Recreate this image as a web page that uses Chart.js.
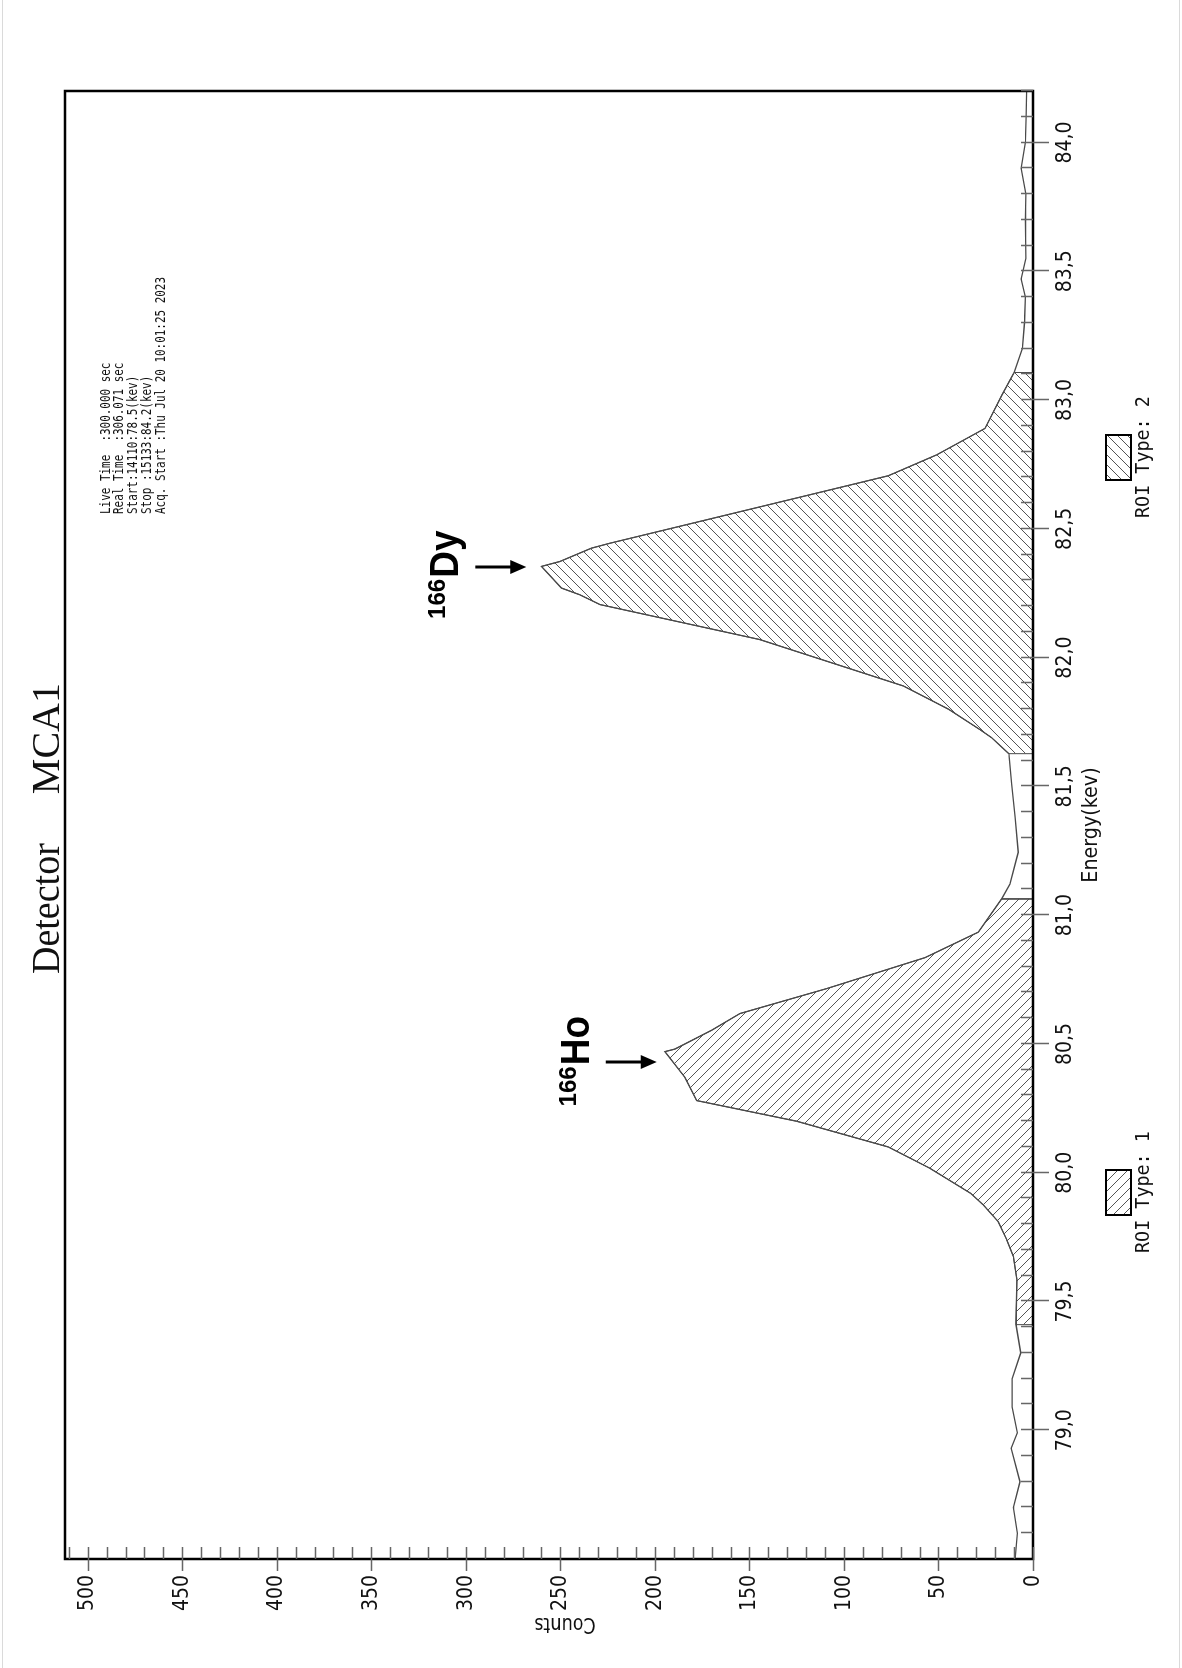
<!DOCTYPE html>
<html>
<head>
<meta charset="utf-8">
<title>Detector MCA1</title>
<script src="https://cdn.jsdelivr.net/npm/chart.js@4.4.0/dist/chart.umd.min.js"></script>
<style>
  html, body { margin: 0; padding: 0; background: #fff; }
  body { width: 1182px; height: 1668px; position: relative; overflow: hidden; }
  .edge { position: absolute; top: 0; width: 1px; height: 1668px; background: #dadada; }
  /* the spectrum is laid out landscape and turned a quarter turn */
  #sheet { position: absolute; left: 0; top: 0; width: 1668px; height: 1182px;
           transform-origin: 0 0; transform: translate(0, 1668px) rotate(-90deg); }
</style>
</head>
<body>
<div class="edge" style="left:2px"></div>
<div class="edge" style="left:1179px"></div>
<div id="sheet"><canvas id="spectrum" width="1668" height="1182"></canvas></div>
<script>
// spectrum: energy (keV) / counts
const energyKeV = [78.50, 78.60, 78.70, 78.80, 78.93, 78.99, 79.09, 79.20, 79.30, 79.41,
  79.585, 79.675, 79.74, 79.81, 79.875, 79.92, 80.017, 80.10, 80.20, 80.28,
  80.37, 80.47, 80.48, 80.553, 80.618, 80.715, 80.79, 80.835, 80.934, 81.063,
  81.12, 81.244, 81.38, 81.51, 81.627, 81.689, 81.72, 81.80, 81.89, 82.07,
  82.206, 82.244, 82.27, 82.354, 82.373, 82.425, 82.444, 82.706, 82.787, 82.858,
  82.89, 83.019, 83.107, 83.20, 83.30, 83.40, 83.47, 83.55, 83.70, 83.80,
  83.90, 84.00, 84.10, 84.20];
const counts = [9.5, 8.3, 10.4, 6.9, 11.6, 8.3, 11.0, 11.0, 6.5, 9.0,
  8.5, 10.4, 13.9, 18.4, 26.3, 33.0, 54.5, 76.6, 125.1, 177.9,
  184.1, 194.7, 189.4, 170.0, 155.0, 109.0, 76.6, 57.1, 28.9, 16.6,
  12.2, 7.8, 9.5, 11.3, 12.8, 21.9, 28.0, 44.8, 68.6, 144.5,
  229.1, 239.7, 249.4, 260.0, 250.3, 233.5, 223.8, 76.6, 51.0, 33.3,
  25.4, 16.5, 10.0, 5.6, 4.5, 4.0, 6.3, 3.8, 4.0, 3.8,
  6.3, 4.0, 3.6, 3.4];

// regions of interest (keV)
const roiOne = [79.41, 81.063];
const roiTwo = [81.627, 83.107];
const roiNames = ['ROI Type: 1', 'ROI Type: 2'];

// axes
const energyRange = [78.5, 84.2];
const countsRange = [0, 512];
const energyTicks = [79.0, 79.5, 80.0, 80.5, 81.0, 81.5, 82.0, 82.5, 83.0, 83.5, 84.0];
const countsTicks = [0, 50, 100, 150, 200, 250, 300, 350, 400, 450, 500];

// peak markers
const peakNames = ['Ho', 'Dy'];
const peakMass = '166';
const peakEnergy = [80.43, 82.35];
const arrowTipCounts = [199, 268];

const acqInfo = [
  'Live Time  :300.000 sec',
  'Real Time  :306.071 sec',
  'Start:14110:78.5(kev)',
  'Stop :15133:84.2(kev)',
  'Acq. Start :Thu Jul 20 10:01:25 2023'
];

const canvas = document.getElementById('spectrum');
const ctx = canvas.getContext('2d');

// diagonal hatch tiles, dir 1 = "\" , dir -1 = "/"
function hatch(dir) {
  const n = 10;
  const t = document.createElement('canvas');
  t.width = n; t.height = n;
  const g = t.getContext('2d');
  g.strokeStyle = '#555';
  g.lineWidth = 1;
  g.beginPath();
  if (dir > 0) {
    g.moveTo(-1, -1); g.lineTo(n + 1, n + 1);
    g.moveTo(-1, n - 1); g.lineTo(1, n + 1);
    g.moveTo(n - 1, -1); g.lineTo(n + 1, 1);
  } else {
    g.moveTo(-1, n + 1); g.lineTo(n + 1, -1);
    g.moveTo(-1, 1); g.lineTo(1, -1);
    g.moveTo(n - 1, n + 1); g.lineTo(n + 1, n - 1);
  }
  g.stroke();
  return ctx.createPattern(t, 'repeat');
}
const hatchOne = hatch(1);
const hatchTwo = hatch(-1);

const spectrumPts = energyKeV.map((e, i) => ({ x: e, y: counts[i] }));

function roiPts(r) {
  const pts = [{ x: r[0], y: 0 }];
  energyKeV.forEach((e, i) => {
    if (e >= r[0] - 1e-9 && e <= r[1] + 1e-9) pts.push({ x: e, y: counts[i] });
  });
  pts.push({ x: r[1], y: 0 });
  return pts;
}

function txt(c, s, x, y, o) {
  c.save();
  c.translate(x, y);
  if (o.rot) c.rotate(o.rot);
  c.scale(o.sx || 1, 1);
  c.font = o.font;
  c.fillStyle = o.color || '#111';
  c.textAlign = o.align || 'left';
  c.textBaseline = o.base || 'alphabetic';
  c.fillText(s, 0, 0);
  c.restore();
}

function txtWidth(c, s, font, sx) {
  c.save();
  c.font = font;
  const w = c.measureText(s).width * (sx || 1);
  c.restore();
  return w;
}

function arrowDown(c, x, yTail, yTip) {
  c.save();
  c.strokeStyle = '#000';
  c.fillStyle = '#000';
  c.lineWidth = 3;
  c.beginPath();
  c.moveTo(x, yTail);
  c.lineTo(x, yTip - 12);
  c.stroke();
  c.beginPath();
  c.moveTo(x - 7, yTip - 16);
  c.lineTo(x + 7, yTip - 16);
  c.lineTo(x, yTip);
  c.closePath();
  c.fill();
  c.restore();
}

const tickFont = '22px "DejaVu Sans", sans-serif';
const monoFont = '"DejaVu Sans Mono", monospace';

const decor = {
  id: 'decor',
  afterDraw(chart) {
    const c = chart.ctx;
    const a = chart.chartArea;
    const xs = chart.scales.x;
    const ys = chart.scales.y;

    // frame
    c.save();
    c.strokeStyle = '#000';
    c.lineWidth = 2.5;
    c.strokeRect(a.left, a.top, a.right - a.left, a.bottom - a.top);

    // energy ticks every 0.1 keV, long ones every 0.5
    c.strokeStyle = '#666';
    c.lineWidth = 1.5;
    c.beginPath();
    for (let k = 786; k <= 842; k++) {
      const px = Math.round(xs.getPixelForValue(k / 10)) + 0.5;
      const major = k % 5 === 0;
      c.moveTo(px, a.bottom - 12);
      c.lineTo(px, major ? a.bottom + 16 : a.bottom);
    }
    // counts ticks every 10, long ones every 50
    for (let v = 0; v <= 510; v += 10) {
      const py = Math.round(ys.getPixelForValue(v)) + 0.5;
      const major = v % 50 === 0;
      c.moveTo(a.left + 12, py);
      c.lineTo(major ? a.left - 12 : a.left, py);
    }
    c.stroke();
    c.restore();

    energyTicks.forEach(v => {
      txt(c, v.toFixed(1).replace('.', ','), xs.getPixelForValue(v), a.bottom + 38,
        { font: tickFont, sx: 0.86, align: 'center' });
    });
    countsTicks.forEach(v => {
      txt(c, String(v), a.left - 16, ys.getPixelForValue(v), { font: tickFont, sx: 0.86, align: 'right', base: 'middle' });
    });

    // axis titles
    txt(c, 'Energy(kev)', (a.left + a.right) / 2, a.bottom + 64,
      { font: '21px "DejaVu Sans", sans-serif', sx: 0.91, align: 'center' });
    txt(c, 'Counts', 50, 565, { font: '22px "DejaVu Sans", sans-serif', sx: 0.8, align: 'center', rot: -Math.PI / 2 });

    // title
    txt(c, 'Detector', 694, 58.5, { font: '40px "Liberation Serif", "Times New Roman", serif', sx: 0.95 });
    txt(c, 'MCA1', 985, 58.5, { font: '40px "Liberation Serif", "Times New Roman", serif', align: 'right' });

    // acquisition block
    acqInfo.forEach((line, i) => {
      txt(c, line, 1154, 109.5 + i * 13.9, { font: '13.5px ' + monoFont, sx: 0.81 });
    });

    // ROI keys
    const keys = [[roiOne, hatchOne, 415], [roiTwo, hatchTwo, 1150]];
    keys.forEach((k, i) => {
      const x0 = k[2];
      c.save();
      c.fillStyle = k[1];
      c.fillRect(x0 + 38, 1106, 45, 25);
      c.strokeStyle = '#000';
      c.lineWidth = 2;
      c.strokeRect(x0 + 38, 1106, 45, 25);
      c.restore();
      txt(c, roiNames[i], x0, 1149, { font: '20px ' + monoFont, sx: 0.92 });
    });

    // peak markers
    const massFont = 'bold 23px "Liberation Sans", Arial, sans-serif';
    const nameFont = 'bold 41px "Liberation Sans", Arial, sans-serif';
    const offs = [-44.5, -52];
    peakNames.forEach((name, i) => {
      const x = Math.round(xs.getPixelForValue(peakEnergy[i]));
      const tip = ys.getPixelForValue(arrowTipCounts[i]);
      arrowDown(c, x, tip - 51, tip);
      const mx = x + offs[i];
      txt(c, peakMass, mx, tip - 81, { font: massFont, sx: 1.05, color: '#000' });
      const w = txtWidth(c, peakMass, massFont, 1.05);
      txt(c, name, mx + w + 1, tip - 68, { font: nameFont, sx: 0.9, color: '#000' });
    });
  }
};

new Chart(canvas, {
  type: 'line',
  data: {
    datasets: [
      {
        data: spectrumPts,
        borderColor: '#4a4a4a',
        borderWidth: 1.3,
        pointRadius: 0,
        tension: 0,
        fill: false
      },
      {
        data: roiPts(roiOne),
        borderColor: '#4a4a4a',
        borderWidth: 1,
        backgroundColor: hatchOne,
        pointRadius: 0,
        tension: 0,
        fill: 'origin'
      },
      {
        data: roiPts(roiTwo),
        borderColor: '#4a4a4a',
        borderWidth: 1,
        backgroundColor: hatchTwo,
        pointRadius: 0,
        tension: 0,
        fill: 'origin'
      }
    ]
  },
  options: {
    responsive: false,
    animation: false,
    devicePixelRatio: 1,
    layout: { padding: { left: 109, right: 91, top: 65, bottom: 149 } },
    scales: {
      x: { type: 'linear', min: energyRange[0], max: energyRange[1], display: false },
      y: { type: 'linear', min: countsRange[0], max: countsRange[1], display: false }
    },
    plugins: { legend: { display: false }, tooltip: { enabled: false } }
  },
  plugins: [decor]
});
</script>
</body>
</html>
